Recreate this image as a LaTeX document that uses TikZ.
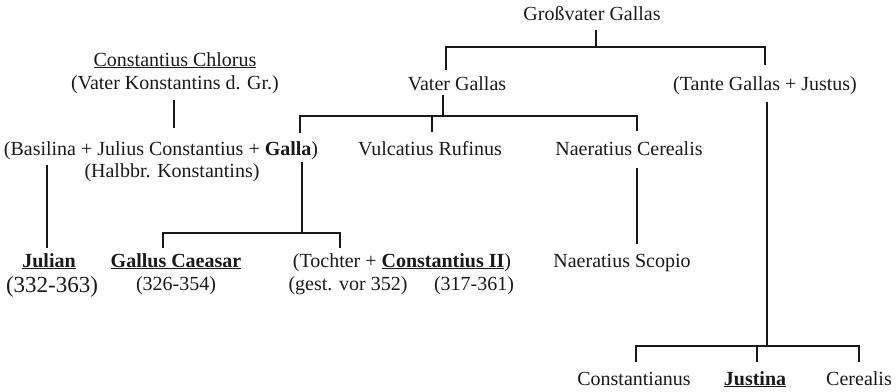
\documentclass[tikz,border=0pt]{standalone}
\usepackage{fontspec}
\setmainfont{Liberation Serif}
\begin{document}
\begin{tikzpicture}[x=1pt,y=-1pt,
  lbl/.style={inner sep=0pt, anchor=base, text=black!90, font=\fontsize{20}{24}\selectfont},
  biglbl/.style={lbl, font=\fontsize{23}{27}\selectfont},
  link/.style={line width=2.8pt, draw=black!90, line join=miter}
]
\useasboundingbox (0,0) rectangle (896,391);

% ---------- texts ----------
\node[lbl] (gv)  at (592,20)  {Großvater Gallas};
\node[lbl] (vg)  at (457,90)  {Vater Gallas};
\node[lbl] (ta)  at (765,90)  {(Tante Gallas + Justus)};
\node[lbl] (chl) at (175,66)  {\underline{Constantius Chlorus}};
\node[lbl] (chl2) at (175,89) {(Vater Konstantins d. Gr.)};
\node[lbl] (jc)  at (161,155) {(Basilina + Julius Constantius + \textbf{Galla})};
\node[lbl] (jc2) at (172,177) {(Halbbr. Konstantins)};
\node[lbl] (vr)  at (430,155) {Vulcatius Rufinus};
\node[lbl] (nc)  at (629,155) {Naeratius Cerealis};
\node[lbl] (ju)  at (49,267)  {\textbf{\underline{Julian}}};
\node[biglbl] (ju2) at (52,292) {(332-363)};
\node[lbl] (ga)  at (176,267) {\textbf{\underline{Gallus Caeasar}}};
\node[lbl] (ga2) at (176,290) {(326-354)};
\node[lbl] (to)  at (402,267) {(Tochter + \textbf{\underline{Constantius II}})};
\node[lbl] (to2) at (348,290) {(gest. vor 352)};
\node[lbl] (co2) at (474,290) {(317-361)};
\node[lbl] (ns)  at (622,267) {Naeratius Scopio};
\node[lbl] (cs)  at (634,385) {Constantianus};
\node[lbl] (js)  at (755,385) {\textbf{\underline{Justina}}};
\node[lbl] (ce)  at (859,385) {Cerealis};

% ---------- junction points ----------
\coordinate (gv-s) at (596,30);  \coordinate (gv-j) at (596,47);
\coordinate (vg-n) at (446,70);  \coordinate (vg-nt) at (446,47);
\coordinate (ta-n) at (765,65);  \coordinate (ta-nt) at (765,47);
\coordinate (vg-s) at (443,95);  \coordinate (vg-j) at (443,116);
\coordinate (jc-n) at (300,133); \coordinate (jc-nt) at (300,116);
\coordinate (vr-n) at (432,132); \coordinate (vr-nt) at (432,116);
\coordinate (nc-n) at (637,131); \coordinate (nc-nt) at (637,116);
\coordinate (chl-s) at (174,100); \coordinate (chl-e) at (174,128);
\coordinate (jc-s) at (302,162); \coordinate (jc-j) at (302,233);
\coordinate (ga-n) at (163,248); \coordinate (ga-nt) at (163,233);
\coordinate (to-n) at (340,248); \coordinate (to-nt) at (340,233);
\coordinate (ju-s) at (47,165);  \coordinate (ju-n) at (47,248);
\coordinate (nc-s) at (637,168); \coordinate (ns-n) at (637,244);
\coordinate (ta-s) at (767,102); \coordinate (ta-j) at (767,346);
\coordinate (cs-n) at (636,362); \coordinate (cs-nt) at (636,346);
\coordinate (js-n) at (757,362); \coordinate (js-nt) at (757,346);
\coordinate (ce-n) at (859,362); \coordinate (ce-nt) at (859,346);

% ---------- connectors ----------
\draw[link] (gv-s) -- (gv-j);
\draw[link] (vg-n) -- (vg-nt) -- (ta-nt) -- (ta-n);
\draw[link] (vg-s) -- (vg-j);
\draw[link] (jc-n) -- (jc-nt) -- (nc-nt) -- (nc-n);
\draw[link] (vr-nt) -- (vr-n);
\draw[link] (chl-s) -- (chl-e);
\draw[link] (jc-s) -- (jc-j);
\draw[link] (ga-n) -- (ga-nt) -- (to-nt) -- (to-n);
\draw[link] (ju-s) -- (ju-n);
\draw[link] (nc-s) -- (ns-n);
\draw[link] (ta-s) -- (ta-j);
\draw[link] (cs-n) -- (cs-nt) -- (ce-nt) -- (ce-n);
\draw[link] (js-nt) -- (js-n);
\end{tikzpicture}
\end{document}
